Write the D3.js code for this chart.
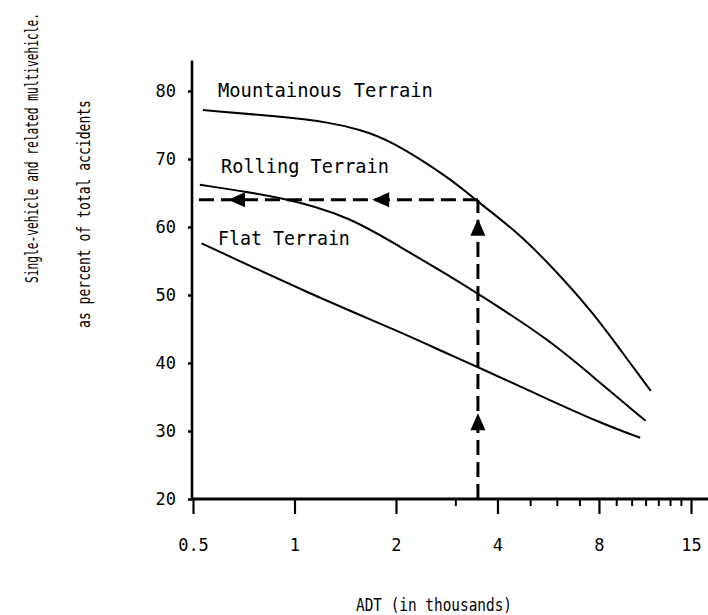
<!DOCTYPE html>
<html>
<head>
<meta charset="utf-8">
<script src="https://cdn.jsdelivr.net/npm/d3@7"></script>
<style>
  body { margin: 0; background: #fff; }
  svg { display: block; font-family: "DejaVu Sans Mono", monospace; }
</style>
</head>
<body>
<div id="chart"></div>
<script>
// ADT (thousands) vs percent
const mountainous = [
  [0.535, 77.2], [0.925, 76.2], [1.27, 75.4], [1.57, 74.3], [1.92, 72.8],
  [2.89, 67.2], [3.5, 63.7], [4.57, 59.3], [5.85, 54.0], [7.68, 47.4],
  [9.27, 41.9], [11.4, 35.9],
];
const rolling = [
  [0.524, 66.2], [0.925, 64.4], [1.46, 61.5], [2.05, 57.1], [2.89, 52.8],
  [3.5, 50.2], [5.72, 43.4], [8.05, 37.1], [11.0, 31.5],
];
const flat = [
  [0.53, 57.6], [1.13, 50.0], [2.05, 44.6], [2.89, 41.2],
  [3.5, 39.4], [5.46, 35.0], [8.05, 31.2], [10.6, 29.0],
];
const seriesNames = ["Mountainous Terrain", "Rolling Terrain", "Flat Terrain"];

const xMajorTicks = [0.5, 1, 2, 4, 8, 15];
const xMinorTicks = [3, 5, 6, 7, 9, 10, 11, 12, 13, 14];
const yTicks = [20, 30, 40, 50, 60, 70, 80];

// worked example: read ADT 3.5 up to the mountainous curve, then across
const readingADT = 3.5;
const readingPct = 64;
const upArrowTips = [61.2, 32.6];
const leftArrowTips = [0.635, 1.7];

const yTitleLines = [
  "Single-vehicle and related multivehicle.",
  "as percent of total accidents",
];
const xTitle = "ADT (in thousands)";

const width = 708;
const height = 615;

const svg = d3
  .select("#chart")
  .append("svg")
  .attr("width", width)
  .attr("height", height);

const x = d3.scaleLog().domain([0.5, 15]).range([193, 691]);
const y = d3.scaleLinear().domain([20, 80]).range([499, 91]);

// squeeze a text horizontally to the width it has in the scan
function fitText(sel, pos) {
  sel.each(function (d, i) {
    const p = pos[i];
    const natural = this.getComputedTextLength();
    const k = p.w / natural;
    d3.select(this).attr(
      "transform",
      `translate(${p.x},${p.y})${p.rotate ? " rotate(-90)" : ""} scale(${k},1)`
    );
  });
}

// axes
const gx = svg.append("g").attr("transform", `translate(0,${y(20)})`);
gx.call(
  d3
    .axisBottom(x)
    .tickValues(xMajorTicks)
    .tickSize(15)
    .tickPadding(25)
    .tickFormat((d) => d)
)
  .call((g) => g.select(".domain").remove())
  .call((g) => g.selectAll("line").attr("stroke-width", 2.2))
  .call((g) =>
    g
      .selectAll("text")
      .attr("font-family", "DejaVu Sans Mono")
      .attr("font-size", 17)
      .attr("fill", "#000")
  );
gx.append("g")
  .call(d3.axisBottom(x).tickValues(xMinorTicks).tickSize(7).tickFormat(""))
  .call((g) => g.select(".domain").remove())
  .call((g) => g.selectAll("line").attr("stroke-width", 2));

const gy = svg.append("g").attr("transform", `translate(${x(0.5) - 1},0)`);
gy.call(d3.axisLeft(y).tickValues(yTicks).tickSize(4).tickPadding(12))
  .call((g) => g.select(".domain").remove())
  .call((g) => g.selectAll("line").attr("stroke-width", 2.5))
  .call((g) =>
    g
      .selectAll("text")
      .attr("font-family", "DejaVu Sans Mono")
      .attr("font-size", 17)
      .attr("fill", "#000")
  );

svg
  .append("line")
  .attr("x1", x(0.5) - 1)
  .attr("x2", x(0.5) - 1)
  .attr("y1", y(20) + 1)
  .attr("y2", y(84.5))
  .attr("stroke", "#000")
  .attr("stroke-width", 2.6);
svg
  .append("line")
  .attr("x1", x(0.5) - 2)
  .attr("x2", x(17))
  .attr("y1", y(20))
  .attr("y2", y(20))
  .attr("stroke", "#000")
  .attr("stroke-width", 2.8);

// curves
const line = d3
  .line()
  .x((d) => x(d[0]))
  .y((d) => y(d[1]))
  .curve(d3.curveBasis);

svg
  .selectAll(".curve")
  .data([mountainous, rolling, flat])
  .join("path")
  .attr("class", "curve")
  .attr("fill", "none")
  .attr("stroke", "#000")
  .attr("stroke-width", 2)
  .attr("d", line);

// curve labels
const labelPos = [
  { x: 218, y: 97, w: 215 },
  { x: 221, y: 173, w: 168 },
  { x: 218, y: 245, w: 132 },
];
svg
  .selectAll(".curve-label")
  .data(seriesNames)
  .join("text")
  .attr("class", "curve-label")
  .attr("font-size", 19.5)
  .text((d) => d)
  .call(fitText, labelPos);

// dashed reading lines
const dash = "15,7";
svg
  .append("line")
  .attr("x1", x(readingADT))
  .attr("x2", x(readingADT))
  .attr("y1", y(20))
  .attr("y2", y(readingPct))
  .attr("stroke", "#000")
  .attr("stroke-width", 3)
  .attr("stroke-dasharray", dash);
svg
  .append("line")
  .attr("x1", x(readingADT))
  .attr("x2", x(0.5))
  .attr("y1", y(readingPct))
  .attr("y2", y(readingPct))
  .attr("stroke", "#000")
  .attr("stroke-width", 3)
  .attr("stroke-dasharray", dash);

const aLen = 17;
const aHalf = 7.5;
svg
  .selectAll(".arrow-up")
  .data(upArrowTips)
  .join("path")
  .attr("class", "arrow-up")
  .attr("fill", "#000")
  .attr("d", (d) => {
    const cx = x(readingADT);
    const ty = y(d);
    return `M${cx},${ty} L${cx + aHalf},${ty + aLen} L${cx - aHalf},${ty + aLen}Z`;
  });
svg
  .selectAll(".arrow-left")
  .data(leftArrowTips)
  .join("path")
  .attr("class", "arrow-left")
  .attr("fill", "#000")
  .attr("d", (d) => {
    const tx = x(d);
    const cy = y(readingPct);
    return `M${tx},${cy} L${tx + aLen},${cy - aHalf} L${tx + aLen},${cy + aHalf}Z`;
  });

// axis titles
const yTitlePos = [
  { x: 38, y: 148, w: 270, rotate: true },
  { x: 90, y: 214, w: 228, rotate: true },
];
svg
  .selectAll(".y-title")
  .data(yTitleLines)
  .join("text")
  .attr("class", "y-title")
  .attr("text-anchor", "middle")
  .attr("font-size", 18)
  .text((d) => d)
  .call(fitText, yTitlePos);

svg
  .append("text")
  .attr("text-anchor", "middle")
  .attr("font-size", 17)
  .text(xTitle)
  .call(fitText, [{ x: 434, y: 611, w: 156 }]);
</script>
</body>
</html>
